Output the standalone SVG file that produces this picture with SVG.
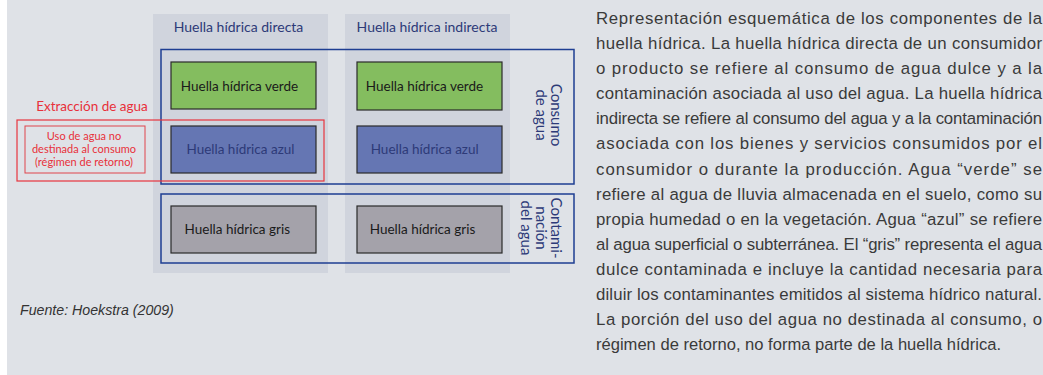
<svg xmlns="http://www.w3.org/2000/svg" width="1043" height="375" viewBox="0 0 1043 375">
<style>
.lbl{font-family:Lato,"Noto Sans",sans-serif;}
.hdr{font-size:14px;fill:#2d3a78;text-anchor:middle;}
.box{stroke:#2a2a2a;stroke-width:1.2;}
.frame{fill:none;stroke:#1e3e92;stroke-width:1.5;}
.bt{font-size:13.5px;text-anchor:middle;}
.rot{font-size:15px;fill:#2d3a78;text-anchor:middle;}
.red{fill:#e8303a;}
.p{font-family:"Liberation Sans",Arial,sans-serif;font-size:16.8px;fill:#3a3a3a;}
</style>
<rect x="0" y="0" width="1043" height="375" fill="#ffffff"/>
<rect x="7" y="0" width="1036" height="375" fill="#dfe2e7"/>
<g id="col-directa">
<rect x="153" y="14" width="175" height="259" fill="#d0d4dd"/>
<text class="lbl hdr" x="238.5" y="32">Huella hídrica directa</text>
</g>
<g id="col-indirecta">
<rect x="345" y="14" width="165" height="259" fill="#d0d4dd"/>
<text class="lbl hdr" x="427" y="32">Huella hídrica indirecta</text>
</g>
<g id="consumo-frame">
<rect class="frame" x="161" y="49.5" width="413" height="134.5"/>
<text class="lbl rot" transform="translate(551,115) rotate(90)">Consumo</text>
<text class="lbl rot" transform="translate(536,115) rotate(90)">de agua</text>
</g>
<g id="contaminacion-frame">
<rect class="frame" x="161" y="194" width="413" height="69"/>
<text class="lbl rot" transform="translate(551,228) rotate(90)">Contami-</text>
<text class="lbl rot" transform="translate(536,228) rotate(90)">nación</text>
<text class="lbl rot" transform="translate(521,228) rotate(90)">del agua</text>
</g>
<g id="verde-directa">
<rect class="box" x="171" y="62" width="145" height="47" fill="#84bd5f"/>
<text class="lbl bt" x="239.5" y="91" fill="#1a1a1a">Huella hídrica verde</text>
</g>
<g id="verde-indirecta">
<rect class="box" x="357" y="62" width="145" height="48" fill="#84bd5f"/>
<text class="lbl bt" x="424.5" y="91" fill="#1a1a1a">Huella hídrica verde</text>
</g>
<g id="azul-directa">
<rect class="box" x="171" y="126" width="145" height="47" fill="#6576b3"/>
<text class="lbl bt" x="240.5" y="154" fill="#2d3a78">Huella hídrica azul</text>
</g>
<g id="azul-indirecta">
<rect class="box" x="357" y="126" width="145" height="47" fill="#6576b3"/>
<text class="lbl bt" x="424.7" y="154" fill="#2d3a78">Huella hídrica azul</text>
</g>
<g id="gris-directa">
<rect class="box" x="171" y="206" width="145" height="47" fill="#a4a2aa"/>
<text class="lbl bt" x="237.3" y="234" fill="#1a1a1a">Huella hídrica gris</text>
</g>
<g id="gris-indirecta">
<rect class="box" x="357" y="206" width="145" height="47" fill="#a4a2aa"/>
<text class="lbl bt" x="422.5" y="234" fill="#1a1a1a">Huella hídrica gris</text>
</g>
<g id="extraccion">
<rect x="17" y="120" width="307" height="61" fill="none" stroke="#e8353f" stroke-width="1.2"/>
<text class="lbl red" x="92" y="111" font-size="13.5" text-anchor="middle">Extracción de agua</text>
</g>
<g id="no-consumo">
<rect x="25" y="126" width="120" height="47" fill="none" stroke="#e0454d" stroke-width="1"/>
<text class="lbl red" font-size="11" text-anchor="middle"><tspan x="84" y="140">Uso de agua no</tspan><tspan x="84" y="153">destinada al consumo</tspan><tspan x="84" y="166">(régimen de retorno)</tspan></text>
</g>
<g id="connectors"></g>
<text x="20" y="315" font-family="'Liberation Sans',Arial,sans-serif" font-style="italic" font-size="14.2" fill="#333">Fuente: Hoekstra (2009)</text>
<g id="caption" class="p">
<text x="596" y="24" textLength="446" lengthAdjust="spacing">Representación esquemática de los componentes de la</text>
<text x="596" y="49.1" textLength="446" lengthAdjust="spacing">huella hídrica. La huella hídrica directa de un consumidor</text>
<text x="596" y="74.2" textLength="446" lengthAdjust="spacing">o producto se refiere al consumo de agua dulce y a la</text>
<text x="596" y="99.2" textLength="446" lengthAdjust="spacing">contaminación asociada al uso del agua. La huella hídrica</text>
<text x="596" y="124.3" textLength="446" lengthAdjust="spacing">indirecta se refiere al consumo del agua y a la contaminación</text>
<text x="596" y="149.4" textLength="446" lengthAdjust="spacing">asociada con los bienes y servicios consumidos por el</text>
<text x="596" y="174.5" textLength="446" lengthAdjust="spacing">consumidor o durante la producción. Agua “verde” se</text>
<text x="596" y="199.5" textLength="446" lengthAdjust="spacing">refiere al agua de lluvia almacenada en el suelo, como su</text>
<text x="596" y="224.6" textLength="446" lengthAdjust="spacing">propia humedad o en la vegetación. Agua “azul” se refiere</text>
<text x="596" y="249.7" textLength="446" lengthAdjust="spacing">al agua superficial o subterránea. El “gris” representa el agua</text>
<text x="596" y="274.8" textLength="446" lengthAdjust="spacing">dulce contaminada e incluye la cantidad necesaria para</text>
<text x="596" y="299.8" textLength="446" lengthAdjust="spacing">diluir los contaminantes emitidos al sistema hídrico natural.</text>
<text x="596" y="324.9" textLength="446" lengthAdjust="spacing">La porción del uso del agua no destinada al consumo, o</text>
<text x="596" y="350" textLength="405" lengthAdjust="spacingAndGlyphs">régimen de retorno, no forma parte de la huella hídrica.</text>
</g>
</svg>
